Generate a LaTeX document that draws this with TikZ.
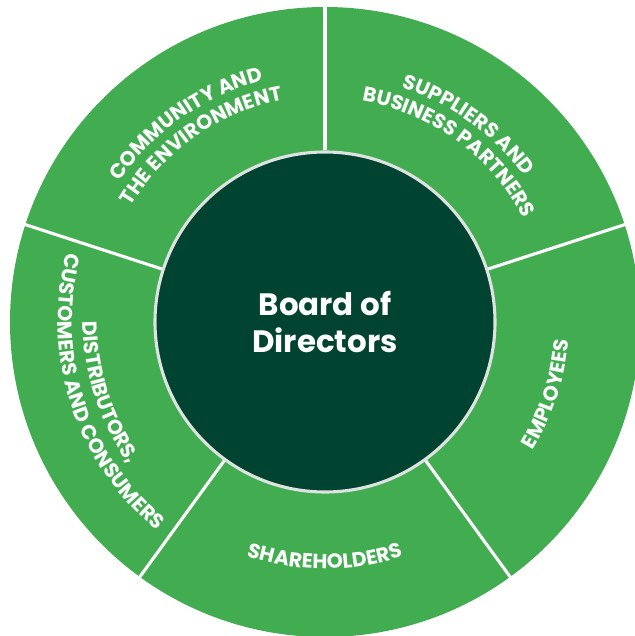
\documentclass[tikz,border=0pt]{standalone}
\usepackage{fontspec}
\setmainfont{Poppins}
\usepackage{xcolor}
\usetikzlibrary{decorations.text}
\definecolor{ringgreen}{RGB}{65,173,80}
\definecolor{boardgreen}{RGB}{0,67,48}
\definecolor{rimgray}{RGB}{222,226,224}
\newcommand{\seglabel}{\fontsize{14.5}{16}\selectfont\bfseries}
\tikzset{
  ring/.style    = {fill = ringgreen},
  divider/.style = {draw = white, line width = 2.2pt},
  board/.style   = {circle, fill = boardgreen, draw = rimgray, line width = 2.2pt,
                    minimum size = 8.5cm, inner sep = 0pt, text = white, align = center,
                    font = \fontsize{22}{27}\selectfont\bfseries},
  arctext/.style = {decorate, decoration = {text along path, text align = center,
                    text color = white, text = {|\seglabel|#1}}}
}

\begin{document}
\begin{tikzpicture}

\useasboundingbox (-8.125,-7.85) rectangle (7.75,8.05);

% Outer ring
\fill[ring] (0,0) circle (7.875);

% Board of Directors
\node[board] (board) at (0,0) {Board of\\Directors};

% Dividers between the segments
\foreach \a in {90,18,-54,-126,162}
  \draw[divider] (board.\a) -- (\a:7.95);

% Community and the Environment
\path[arctext={COMMUNITY AND}] (170:6.22) arc[start angle=170, end angle=80, radius=6.22];
\path[arctext={THE ENVIRONMENT}] (170:5.65) arc[start angle=170, end angle=80, radius=5.65];

% Suppliers and Business Partners
\path[arctext={SUPPLIERS AND}] (99:6.17) arc[start angle=99, end angle=9, radius=6.17];
\path[arctext={BUSINESS PARTNERS}] (99:5.6) arc[start angle=99, end angle=9, radius=5.6];

% Employees
\path[arctext={EMPLOYEES}] (-63:6.1) arc[start angle=-63, end angle=27, radius=6.1];

% Shareholders
\path[arctext={SHAREHOLDERS}] (-135:6.17) arc[start angle=-135, end angle=-45, radius=6.17];

% Distributors, Customers and Consumers
\path[arctext={DISTRIBUTORS,}] (153:6.05) arc[start angle=153, end angle=243, radius=6.05];
\path[arctext={CUSTOMERS AND CONSUMERS}] (153:6.68) arc[start angle=153, end angle=243, radius=6.68];

\end{tikzpicture}
\end{document}
